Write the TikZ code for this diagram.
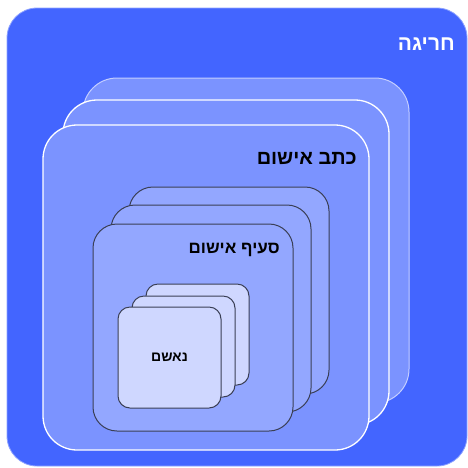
\documentclass[tikz,border=0pt]{standalone}
\usepackage{fontspec}
\setmainfont{DejaVu Sans}
\TeXXeTstate=1
\newfontfamily\hebsans[Script=Hebrew]{Liberation Sans}
\definecolor{cOuter}{HTML}{4365FF}
\definecolor{cTwo}{HTML}{7B93FF}
\definecolor{cThree}{HTML}{93A7FF}
\definecolor{cFour}{HTML}{CFD7FF}
\definecolor{cEdge}{HTML}{3A3F55}
\tikzset{
  box/.style={anchor=north west, inner sep=0pt, outer sep=0pt},
  outerbox/.style={box, fill=cOuter, draw=cOuter!60!white, line width=0.8pt, rounded corners=30pt, minimum width=460pt, minimum height=458pt},
  lvtwo/.style={box, fill=cTwo, draw=white, line width=1.3pt, rounded corners=34pt, minimum width=326pt, minimum height=325pt},
  lvtwoback/.style={lvtwo, draw=white!55!cTwo, line width=1pt},
  lvthree/.style={box, fill=cThree, draw=cEdge, line width=1pt, rounded corners=24pt, minimum width=200pt, minimum height=207pt},
  lvfour/.style={box, fill=cFour, draw=cEdge, line width=1pt, rounded corners=12pt, minimum width=103pt, minimum height=101pt},
  lbl/.style={inner sep=0pt}
}
\begin{document}
\begin{tikzpicture}[x=1pt,y=-1pt]
\useasboundingbox (0,0) rectangle (468,467);
\node[outerbox] (outer) at (7,8) {};
\node[lbl, text=white, font=\hebsans\bfseries\fontsize{21}{26}\selectfont, anchor=east] (tOuter) at (455,44) {\beginR חריגה\endR};
% level two
\node[lvtwoback] (twoC) at (83,78) {};
\node[lvtwo] (twoB) at (63,100) {};
\node[lvtwo] (twoA) at (43,125) {};
\node[lbl, text=black, font=\hebsans\bfseries\fontsize{20}{25}\selectfont, anchor=east] (tTwo) at (357,158) {\beginR כתב אישום\endR};
% level three
\node[lvthree] (threeC) at (129,187) {};
\node[lvthree] (threeB) at (111,205) {};
\node[lvthree] (threeA) at (93,224) {};
\node[lbl, text=black, font=\hebsans\bfseries\fontsize{17}{21}\selectfont, anchor=east] (tThree) at (280,250) {\beginR סעיף אישום\endR};
% level four
\node[lvfour] (fourC) at (146,284) {};
\node[lvfour] (fourB) at (132,296) {};
\node[lvfour] (fourA) at (118,307) {};
\node[lbl, text=black, font=\hebsans\bfseries\fontsize{14}{17}\selectfont] (tFour) at (fourA.center) {\beginR נאשם\endR};
\end{tikzpicture}
\end{document}
